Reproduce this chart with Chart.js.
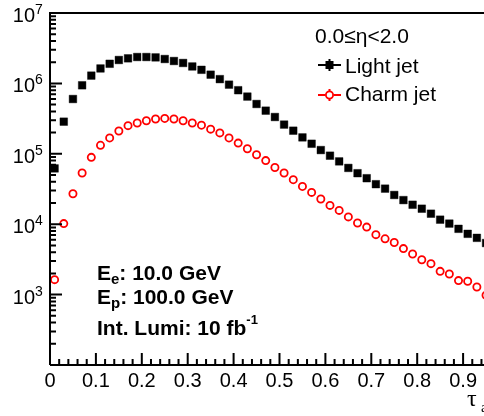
<!DOCTYPE html>
<html>
<head>
<meta charset="utf-8">
<script src="https://cdn.jsdelivr.net/npm/chart.js@4/dist/chart.umd.min.js"></script>
<style>
  html, body { margin: 0; padding: 0; background: #fff; width: 484px; height: 416px; overflow: hidden; }
  canvas { display: block; }
</style>
</head>
<body>
<canvas id="c" width="560" height="416"></canvas>
<script>
// Bin centres in tau_a (bin width 0.02)
const tauCentres = [
  0.01, 0.03, 0.05, 0.07, 0.09, 0.11, 0.13, 0.15, 0.17, 0.19,
  0.21, 0.23, 0.25, 0.27, 0.29, 0.31, 0.33, 0.35, 0.37, 0.39,
  0.41, 0.43, 0.45, 0.47, 0.49, 0.51, 0.53, 0.55, 0.57, 0.59,
  0.61, 0.63, 0.65, 0.67, 0.69, 0.71, 0.73, 0.75, 0.77, 0.79,
  0.81, 0.83, 0.85, 0.87, 0.89, 0.91, 0.93, 0.95
];

// Light-jet yield per bin
const lightJet = [
  6.2e4, 2.86e5, 6.0e5, 9.4e5, 1.29e6, 1.63e6, 1.9e6, 2.15e6, 2.27e6, 2.37e6,
  2.37e6, 2.34e6, 2.22e6, 2.08e6, 1.95e6, 1.74e6, 1.56e6, 1.33e6, 1.15e6, 9.6e5,
  8.0e5, 6.5e5, 5.1e5, 4.1e5, 3.33e5, 2.6e5, 2.13e5, 1.71e5, 1.39e5, 1.13e5,
  9.4e4, 7.8e4, 6.3e4, 5.3e4, 4.5e4, 3.7e4, 3.2e4, 2.6e4, 2.2e4, 1.89e4,
  1.66e4, 1.41e4, 1.16e4, 1.02e4, 8.6e3, 7.3e3, 6.4e3, 5.4e3
];

// Charm-jet yield per bin
const charmJet = [
  1.63e3, 1.02e4, 2.71e4, 5.34e4, 8.9e4, 1.32e5, 1.68e5, 2.11e5, 2.51e5, 2.74e5,
  2.95e5, 3.12e5, 3.18e5, 3.12e5, 2.95e5, 2.74e5, 2.55e5, 2.24e5, 1.98e5, 1.68e5,
  1.42e5, 1.18e5, 9.7e4, 8.0e4, 6.4e4, 5.34e4, 4.29e4, 3.44e4, 2.83e4, 2.28e4,
  1.85e4, 1.57e4, 1.27e4, 1.04e4, 9.1e3, 7.1e3, 6.2e3, 5.5e3, 4.5e3, 3.77e3,
  3.13e3, 2.75e3, 2.14e3, 1.96e3, 1.58e3, 1.55e3, 1.28e3, 9.8e2
];

// Axis tick labels
const xTickValues = [0, 0.1, 0.2, 0.3, 0.4, 0.5, 0.6, 0.7, 0.8, 0.9];
const xTickLabels = ['0', '0.1', '0.2', '0.3', '0.4', '0.5', '0.6', '0.7', '0.8', '0.9'];
const yDecadeExponents = [3, 4, 5, 6, 7];

const FONT = '"Liberation Sans", Arial, Helvetica, sans-serif';

function txt(ctx, s, x, y, font, align, color) {
  ctx.font = font;
  ctx.textAlign = align || 'left';
  ctx.textBaseline = 'alphabetic';
  ctx.fillStyle = color || '#000';
  ctx.fillText(s, x, y);
  return ctx.measureText(s).width;
}

const frameAndLabels = {
  id: 'frameAndLabels',
  afterDraw(chart) {
    const ctx = chart.ctx;
    const xs = chart.scales.x, ys = chart.scales.y;
    const a = chart.chartArea;
    ctx.save();
    ctx.strokeStyle = '#000';
    ctx.lineWidth = 2;
    ctx.lineCap = 'butt';

    // frame
    ctx.beginPath();
    ctx.moveTo(a.left, a.bottom); ctx.lineTo(a.left, a.top);
    ctx.lineTo(a.right, a.top); ctx.lineTo(a.right, a.bottom);
    ctx.lineTo(a.left, a.bottom);
    ctx.stroke();

    // x ticks (inward): major every 0.1, minor every 0.02
    ctx.beginPath();
    for (let i = 0; i <= 50; i++) {
      const px = xs.getPixelForValue(i * 0.02);
      const len = (i % 5 === 0) ? 12 : 6;
      ctx.moveTo(px, a.bottom); ctx.lineTo(px, a.bottom - len);
    }
    // y ticks (inward): decades and 2..9 sub-divisions
    for (let e = 2; e <= 6; e++) {
      for (let m = 1; m <= 9; m++) {
        const py = ys.getPixelForValue(m * Math.pow(10, e));
        const len = (m === 1) ? 12 : 6;
        ctx.moveTo(a.left, py); ctx.lineTo(a.left + len, py);
      }
    }
    ctx.stroke();

    // x tick labels
    xTickValues.forEach((v, i) => {
      txt(ctx, xTickLabels[i], xs.getPixelForValue(v), a.bottom + 22, '20px ' + FONT, 'center');
    });

    // y tick labels 10^n
    yDecadeExponents.forEach(e => {
      const py = ys.getPixelForValue(Math.pow(10, e));
      txt(ctx, '10', 35, py + 9, '20px ' + FONT, 'right');
      txt(ctx, String(e), 35, py + 1, '14px ' + FONT, 'left');
    });

    // x axis title tau_a
    txt(ctx, '\u03C4', 467, 406, '24px "Liberation Serif", "DejaVu Serif", serif', 'left');
    txt(ctx, 'a', 481, 412, '15px "Liberation Serif", serif', 'left');

    // legend
    txt(ctx, '0.0\u2264\u03B7<2.0', 315, 43, '21px ' + FONT, 'left');
    // light jet entry
    ctx.beginPath();
    ctx.moveTo(318, 65); ctx.lineTo(341, 65);
    ctx.moveTo(329.5, 59); ctx.lineTo(329.5, 71);
    ctx.stroke();
    ctx.fillStyle = '#000';
    ctx.fillRect(325.5, 61, 8, 8);
    txt(ctx, 'Light jet', 345, 72.5, '21px ' + FONT, 'left');
    // charm jet entry
    ctx.strokeStyle = '#f00';
    ctx.beginPath();
    ctx.moveTo(318, 95); ctx.lineTo(325.5, 95);
    ctx.moveTo(333.5, 95); ctx.lineTo(341, 95);
    ctx.moveTo(329.5, 89); ctx.lineTo(329.5, 91);
    ctx.moveTo(329.5, 99); ctx.lineTo(329.5, 101);
    ctx.stroke();
    ctx.lineWidth = 1.8;
    ctx.beginPath();
    ctx.arc(329.5, 95, 3.6, 0, Math.PI * 2);
    ctx.fillStyle = '#fff'; ctx.fill(); ctx.stroke();
    txt(ctx, 'Charm jet', 345, 100.5, '21px ' + FONT, 'left');

    // beam and luminosity annotations
    const bold = 'bold 21px ' + FONT, sub = 'bold 15px ' + FONT;
    let x = 97;
    x += txt(ctx, 'E', x, 280, bold);
    x += txt(ctx, 'e', x, 284, sub);
    txt(ctx, ': 10.0 GeV', x, 280, bold);
    x = 97;
    x += txt(ctx, 'E', x, 304, bold);
    x += txt(ctx, 'p', x, 308, sub);
    txt(ctx, ': 100.0 GeV', x, 304, bold);
    x = 97;
    x += txt(ctx, 'Int. Lumi: 10 fb', x, 335, bold);
    txt(ctx, '-1', x, 324, 'bold 13px ' + FONT);

    ctx.restore();
  }
};

new Chart(document.getElementById('c').getContext('2d'), {
  type: 'scatter',
  data: {
    datasets: [
      {
        label: 'Light jet',
        data: tauCentres.map((t, i) => ({ x: t, y: lightJet[i] })),
        pointStyle: 'rect',
        pointRadius: 5.4,
        pointBackgroundColor: '#000',
        pointBorderColor: '#000',
        pointBorderWidth: 0.4,
        showLine: false,
        clip: false
      },
      {
        label: 'Charm jet',
        data: tauCentres.map((t, i) => ({ x: t, y: charmJet[i] })),
        pointStyle: 'circle',
        pointRadius: 3.6,
        pointBackgroundColor: '#fff',
        pointBorderColor: '#f00',
        pointBorderWidth: 1.8,
        showLine: false,
        clip: false
      }
    ]
  },
  options: {
    responsive: false,
    animation: false,
    devicePixelRatio: 1,
    layout: { padding: { top: 13, right: 51, left: 0, bottom: 0 } },
    plugins: { legend: { display: false }, tooltip: { enabled: false } },
    scales: {
      x: {
        type: 'linear', min: 0, max: 1,
        grid: { display: false }, border: { display: false },
        ticks: { display: false },
        afterFit(s) { s.height = 51; }
      },
      y: {
        type: 'logarithmic', min: 100, max: 1e7,
        grid: { display: false }, border: { display: false },
        ticks: { display: false },
        afterFit(s) { s.width = 50; }
      }
    }
  },
  plugins: [frameAndLabels]
});
</script>
</body>
</html>
